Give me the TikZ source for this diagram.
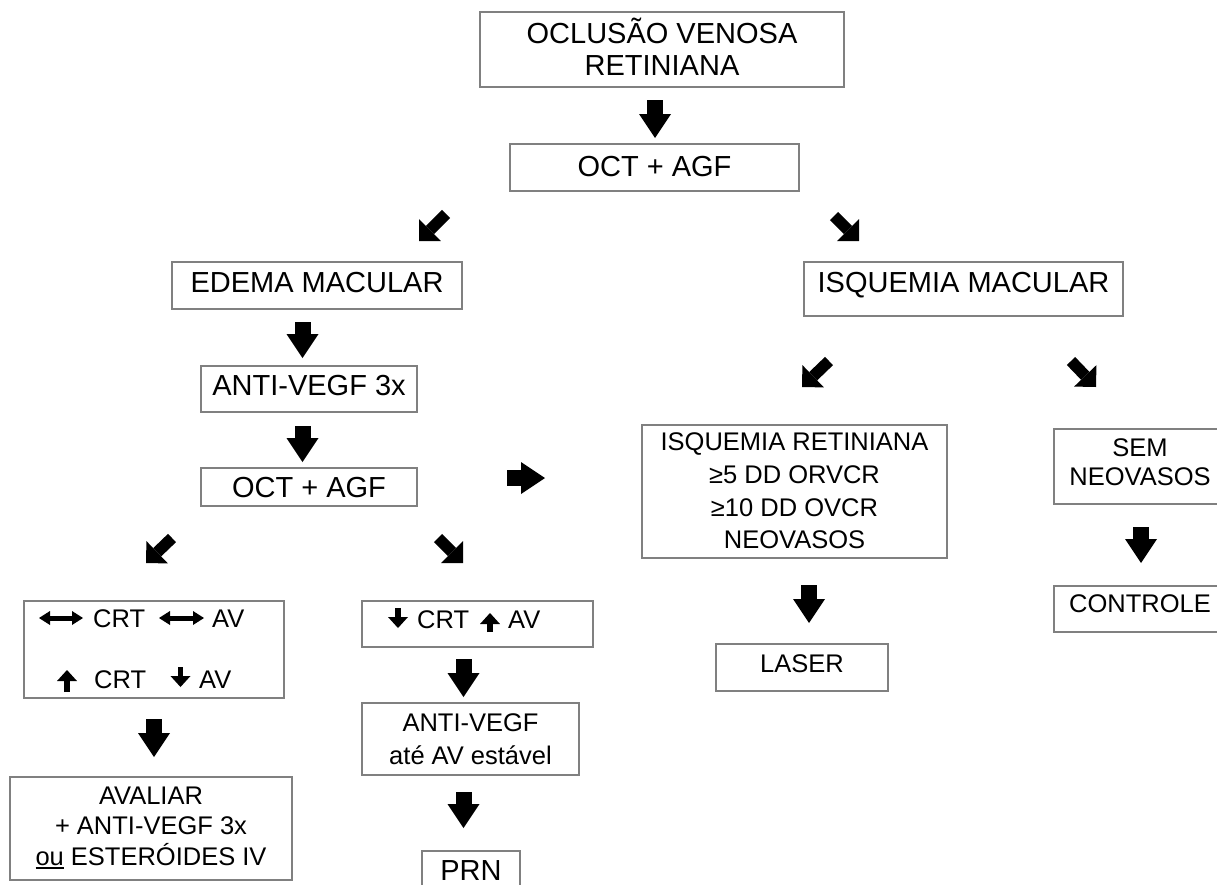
\documentclass[tikz,border=0pt]{standalone}
\usepackage{fontspec}
\setmainfont{Liberation Sans}
\usetikzlibrary{arrows.meta}
\newcommand{\undl}[1]{\setbox0\hbox{#1}\rlap{\rule[-3.5pt]{\wd0}{1.8pt}}\box0}
\tikzset{
  box/.style={draw=black!50, line width=1.3pt, inner sep=0pt, align=center},
  sbox/.style={box, text height=20.8pt},
  bigfont/.style={font=\fontsize{29}{32}\selectfont},
  smallfont/.style={font=\fontsize{25.5}{32}\selectfont, text height=18.3pt},
  flowarrow/.style={line width=16pt, -{Triangle[width=32pt,length=24pt,line width=0pt]}},
  diagarrow/.style={line width=11.5pt, -{Triangle[width=31pt,length=15.5pt,line width=0pt]}},
  tinyarrow/.style={line width=5.5pt, -{Triangle[width=20pt,length=11pt,line width=0pt]}},
  lrarrow/.style={line width=5pt, {Triangle[width=14pt,length=11pt,line width=0pt]}-{Triangle[width=14pt,length=11pt,line width=0pt]}},
  txt/.style={anchor=base west, inner sep=0pt, font=\fontsize{25.5}{32}\selectfont},
}
\begin{document}
\begin{tikzpicture}[x=1pt,y=-1pt]
\useasboundingbox (0,0) rectangle (1217,884);

% boxes
\node[box, bigfont, minimum width=364pt, minimum height=75pt, text depth=6pt] (top) at (662,49.5) {OCLUSÃO VENOSA\\RETINIANA};
\node[sbox, bigfont, minimum width=289pt, minimum height=47pt, text depth=2pt] (oct1) at (654.5,167.5) {OCT + AGF};
\node[sbox, bigfont, minimum width=290pt, minimum height=47pt, text depth=6pt] (edema) at (317,285.5) {EDEMA MACULAR};
\node[sbox, bigfont, minimum width=319pt, minimum height=54pt, text depth=13pt] (isqmac) at (963.5,289) {ISQUEMIA MACULAR};
\node[sbox, bigfont, minimum width=216pt, minimum height=46pt, text depth=8pt] (antivegf) at (309,389) {ANTI-VEGF 3x};
\node[sbox, bigfont, minimum width=216pt, minimum height=38pt, text depth=0pt] (oct2) at (309,487) {OCT + AGF};
\node[box, font=\fontsize{25.5}{32.7}\selectfont, minimum width=305pt, minimum height=133pt, text depth=1pt] (isqret) at (794.5,491.5) {ISQUEMIA RETINIANA\\≥5 DD ORVCR\\≥10 DD OVCR\\NEOVASOS};
\node[box, font=\fontsize{25.5}{29}\selectfont, minimum width=172pt, minimum height=75pt, text depth=9pt] (sem) at (1140,466.5) {SEM\\NEOVASOS};
\node[box, minimum width=260pt, minimum height=97pt] (crt1) at (154,649.5) {};
\node[box, minimum width=231pt, minimum height=46pt] (crt2) at (477.5,624) {};
\node[box, font=\fontsize{25.5}{30.5}\selectfont, minimum width=282pt, minimum height=103pt, text depth=5pt] (avaliar) at (151,828.5) {AVALIAR\\+ ANTI-VEGF 3x\\\undl{ou}\ ESTERÓIDES IV};
\node[box, font=\fontsize{25.5}{33}\selectfont, minimum width=217pt, minimum height=72pt, text depth=0pt] (estavel) at (470.5,739) {ANTI-VEGF\\até AV estável};
\node[box, minimum width=98pt, minimum height=46pt] (prn) at (471,874) {};
\node[bigfont, inner sep=0pt, anchor=base] (prntext) at (471,880) {PRN};
\node[sbox, smallfont, minimum width=172pt, minimum height=47pt, text depth=8pt] (laser) at (802,667.5) {LASER};
\node[sbox, smallfont, minimum width=172pt, minimum height=46pt, text depth=11pt] (controle) at (1140,609) {CONTROLE};

% texts inside the CRT boxes
\node[txt] (crt1a) at (93,627) {CRT};
\node[txt] (av1a) at (212,627) {AV};
\node[txt] (crt1b) at (94,688) {CRT};
\node[txt] (av1b) at (199,688) {AV};
\node[txt] (crt2a) at (417,628) {CRT};
\node[txt] (av2a) at (508,628) {AV};

% small arrows inside the CRT boxes
\coordinate (lr1s) at (39,618); \coordinate (lr1e) at (83,618);
\coordinate (lr2s) at (159,618); \coordinate (lr2e) at (204,618);
\draw[lrarrow] (lr1s) -- (lr1e);
\draw[lrarrow] (lr2s) -- (lr2e);
\coordinate (u1s) at (67,692); \coordinate (u1e) at (67,670);
\coordinate (d1s) at (180.5,667); \coordinate (d1e) at (180.5,687);
\draw[tinyarrow] (u1s) -- (u1e);
\draw[tinyarrow] (d1s) -- (d1e);
\coordinate (d2s) at (398,608); \coordinate (d2e) at (398,628);
\coordinate (u2s) at (490,632); \coordinate (u2e) at (490,613);
\draw[tinyarrow] (d2s) -- (d2e);
\draw[tinyarrow] (u2s) -- (u2e);

% flow arrows
\coordinate (a1s) at (655,100); \coordinate (a1e) at (655,138);
\coordinate (a2s) at (446,214); \coordinate (a2e) at (419,241);
\coordinate (a3s) at (834,216); \coordinate (a3e) at (859,241);
\coordinate (a4s) at (302.5,322); \coordinate (a4e) at (302.5,358);
\coordinate (a5s) at (302.5,426); \coordinate (a5e) at (302.5,462);
\coordinate (a6s) at (507,478); \coordinate (a6e) at (545,478);
\coordinate (a7s) at (172,538); \coordinate (a7e) at (146,563);
\coordinate (a8s) at (438,538); \coordinate (a8e) at (463,563);
\coordinate (a9s) at (154,719); \coordinate (a9e) at (154,757);
\coordinate (a10s) at (463.5,659); \coordinate (a10e) at (463.5,697);
\coordinate (a11s) at (463.5,792); \coordinate (a11e) at (463.5,828);
\coordinate (a12s) at (829,361); \coordinate (a12e) at (802,387);
\coordinate (a13s) at (1071,361); \coordinate (a13e) at (1096,387);
\coordinate (a14s) at (809,585); \coordinate (a14e) at (809,623);
\coordinate (a15s) at (1141,527); \coordinate (a15e) at (1141,563);

\foreach \a in {a1,a4,a5,a6,a9,a10,a11,a14,a15}
  \draw[flowarrow] (\a s) -- (\a e);
\foreach \a in {a2,a3,a7,a8,a12,a13}
  \draw[diagarrow] (\a s) -- (\a e);
\end{tikzpicture}
\end{document}
